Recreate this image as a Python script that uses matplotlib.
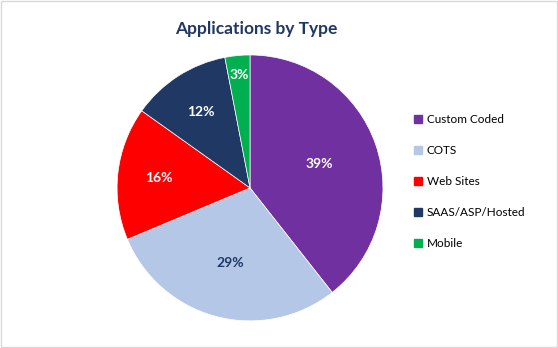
import matplotlib
matplotlib.use("Agg")
import matplotlib.pyplot as plt
from matplotlib.patches import Rectangle
from matplotlib.lines import Line2D

categories = ["Custom Coded", "COTS", "Web Sites", "SAAS/ASP/Hosted", "Mobile"]
values = [39, 29, 16, 12, 3]
colors = ["#7030A0", "#B4C7E7", "#FF0000", "#1F3864", "#00B050"]
label_colors = ["white", "#1F3864", "white", "white", "white"]
# radial position of each percentage label, as a fraction of the radius
label_radius = [0.55, 0.58, 0.69, 0.68, 0.85]

plt.rcParams["font.family"] = ["Lato", "DejaVu Sans"]

fig = plt.figure(figsize=(5.58, 3.48), dpi=100)
fig.patch.set_facecolor("white")

ax = fig.add_axes([0.2097, 0.078, 0.4767, 0.764])
wedges, texts = ax.pie(
    values,
    colors=colors,
    startangle=90,
    counterclock=False,
    labels=[f"{v}%" for v in values],
    labeldistance=1.0,
    wedgeprops=dict(linewidth=0.5, edgecolor="white"),
)
for t, c, r in zip(texts, label_colors, label_radius):
    x, y = t.get_position()
    t.set_position((x * r, y * r))
    t.set_color(c)
    t.set_fontweight("bold")
    t.set_fontsize(10)
    t.set_ha("center")
    t.set_va("center")
ax.set_xlim(-1.0, 1.0)
ax.set_ylim(-1.0, 1.0)
ax.set_aspect("equal")

fig.text(0.459, 0.918, "Applications by Type", ha="center", va="center",
         fontsize=12.5, fontweight="bold", color="#1F3864")

handles = [Line2D([], [], marker="s", linestyle="none", markersize=6,
                  markerfacecolor=c, markeredgecolor=c) for c in colors]
fig.legend(handles, categories, loc="center left", bbox_to_anchor=(0.735, 0.478),
           frameon=False, fontsize=8.5, handlelength=0.6, handletextpad=0.4,
           labelspacing=1.68, borderaxespad=0)

fig.add_artist(Rectangle((0.001, 0.002), 0.997, 0.995, transform=fig.transFigure,
                         fill=False, edgecolor="#D9D9D9", linewidth=1))

fig.savefig("out.png", dpi=100)
